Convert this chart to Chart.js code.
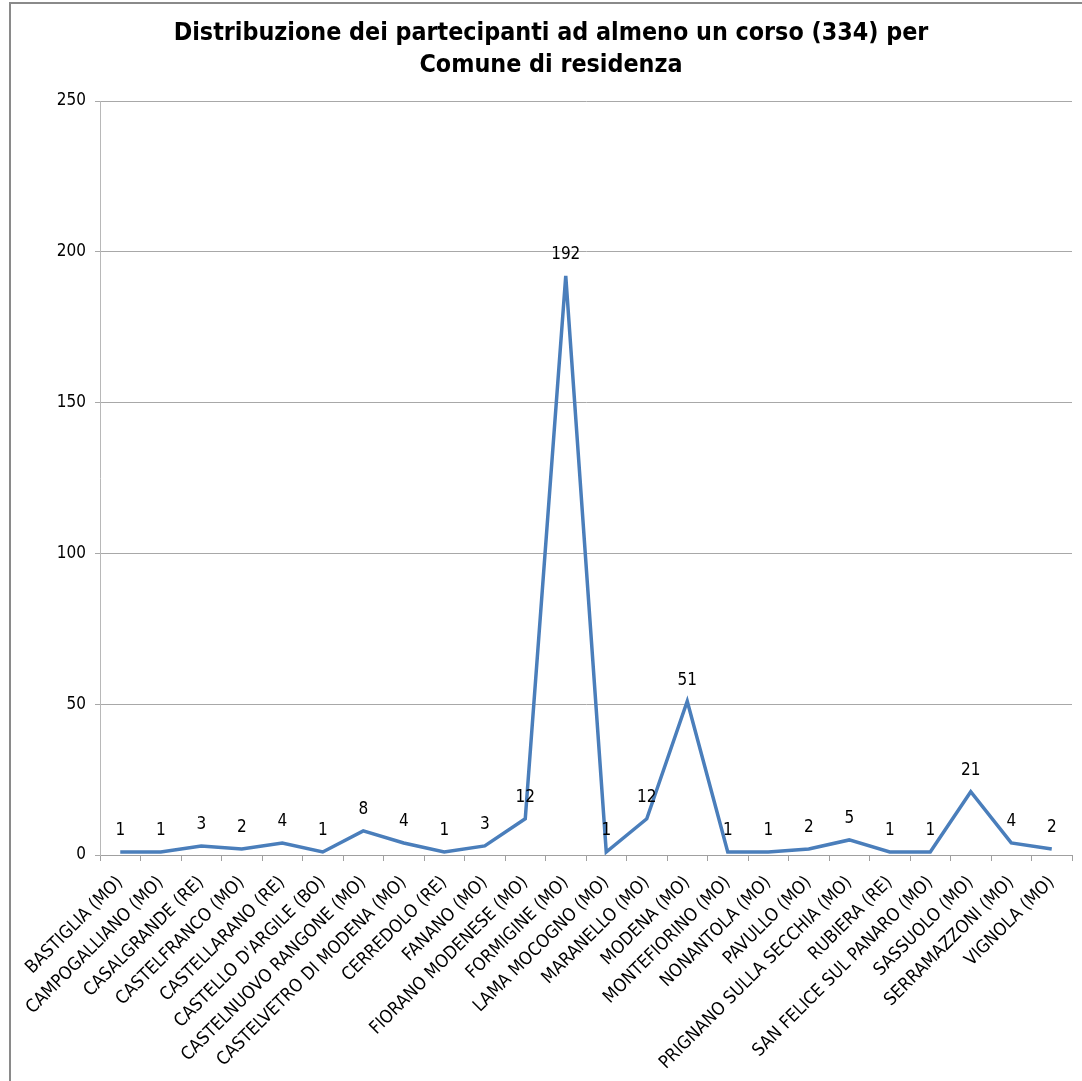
<!DOCTYPE html>
<html>
<head>
<meta charset="utf-8">
<script src="https://cdn.jsdelivr.net/npm/chart.js@4/dist/chart.umd.min.js"></script>
<style>
html,body{margin:0;padding:0;background:#fff;}
#wrap{width:1082px;height:1081px;position:relative;}
</style>
</head>
<body>
<div id="wrap"><canvas id="c" width="1082" height="1081"></canvas></div>
<script>
const titleLines = ["Distribuzione dei partecipanti ad almeno un corso (334) per", "Comune di residenza"];
const categories = ["BASTIGLIA (MO)","CAMPOGALLIANO (MO)","CASALGRANDE (RE)","CASTELFRANCO (MO)","CASTELLARANO (RE)","CASTELLO D'ARGILE (BO)","CASTELNUOVO RANGONE (MO)","CASTELVETRO DI MODENA (MO)","CERREDOLO (RE)","FANANO (MO)","FIORANO MODENESE (MO)","FORMIGINE (MO)","LAMA MOCOGNO (MO)","MARANELLO (MO)","MODENA (MO)","MONTEFIORINO (MO)","NONANTOLA (MO)","PAVULLO (MO)","PRIGNANO SULLA SECCHIA (MO)","RUBIERA (RE)","SAN FELICE SUL PANARO (MO)","SASSUOLO (MO)","SERRAMAZZONI (MO)","VIGNOLA (MO)"];
const values = [1,1,3,2,4,1,8,4,1,3,12,192,1,12,51,1,1,2,5,1,1,21,4,2];
const yTicks = [0,50,100,150,200,250];

const FONT = "'DejaVu Sans Condensed', 'DejaVu Sans', sans-serif";

const frame = {
  id: 'frame',
  beforeDraw(chart) {
    const ctx = chart.ctx;
    ctx.save();
    ctx.fillStyle = '#fff';
    ctx.fillRect(0, 0, chart.width, chart.height);
    ctx.strokeStyle = '#8a8a8a';
    ctx.lineWidth = 2;
    ctx.strokeRect(10, 3, 3000, 3000);
    ctx.restore();
  }
};

const dataLabels = {
  id: 'dataLabels',
  afterDatasetsDraw(chart) {
    const ctx = chart.ctx;
    const meta = chart.getDatasetMeta(0);
    const ds = chart.data.datasets[0].data;
    ctx.save();
    ctx.font = "17px " + FONT;
    ctx.fillStyle = '#000';
    ctx.textAlign = 'center';
    ctx.textBaseline = 'middle';
    meta.data.forEach((pt, i) => {
      ctx.fillText(String(ds[i]), pt.x, pt.y - 21);
    });
    ctx.restore();
  }
};

new Chart(document.getElementById('c'), {
  type: 'line',
  data: {
    labels: categories,
    datasets: [{
      data: values,
      borderColor: '#4a7ebb',
      borderWidth: 3.5,
      pointRadius: 0,
      tension: 0,
      fill: false
    }]
  },
  options: {
    responsive: false,
    animation: false,
    events: [],
    layout: { padding: { left: 30, right: 10, top: 0, bottom: 0 } },
    plugins: {
      legend: { display: false },
      tooltip: { enabled: false },
      title: {
        display: true,
        text: titleLines,
        color: '#000',
        font: { family: FONT, size: 24.8, weight: 'bold', lineHeight: 32/24.8 },
        padding: { top: 18, bottom: 19 }
      }
    },
    scales: {
      x: {
        type: 'category',
        offset: true,
        afterFit(scale) { scale.height = 226; },
        grid: { display: true, drawOnChartArea: false, drawTicks: true, tickLength: 6, color: '#a0a0a0', offset: true },
        border: { display: true, color: '#a0a0a0', width: 1 },
        ticks: {
          autoSkip: false, maxRotation: 45, minRotation: 45,
          color: '#000', padding: 11,
          font: { family: FONT, size: 18 }
        }
      },
      y: {
        min: 0, max: 250,
        afterFit(scale) { scale.width = 70; },
        afterBuildTicks(scale) { scale.ticks = yTicks.map(v => ({ value: v })); },
        grid: { color: '#a8a8a8', drawTicks: true, tickLength: 5, lineWidth: 1 },
        border: { display: true, color: '#b8b8b8', width: 1 },
        ticks: { color: '#000', padding: 9, font: { family: FONT, size: 17 } }
      }
    }
  },
  plugins: [frame, dataLabels]
});
</script>
</body>
</html>
